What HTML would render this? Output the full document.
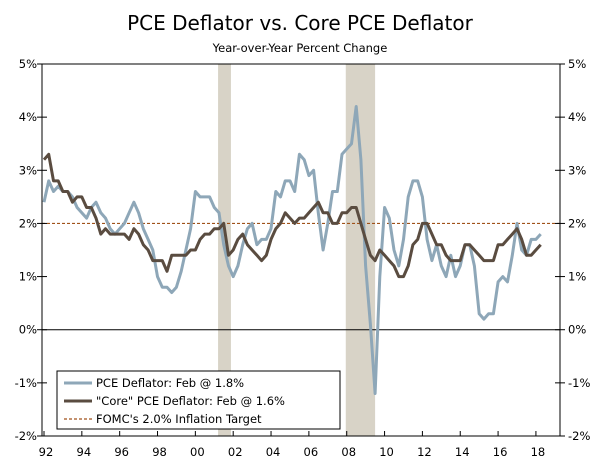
<!DOCTYPE html>
<html><head><meta charset="utf-8">
<style>
body{margin:0;background:#fff;}
svg text{font-family:"DejaVu Sans","Liberation Sans",sans-serif;}
</style></head>
<body>
<svg id="chart" width="600" height="467" viewBox="0 0 600 467">
<text x="300" y="30" text-anchor="middle" font-size="20" fill="#000">PCE Deflator vs. Core PCE Deflator</text>
<text x="300" y="52" text-anchor="middle" font-size="11.5" fill="#000">Year-over-Year Percent Change</text>
<g id="plot"></g>
</svg>
<script>
const startYear = 1992;
const pce = [2.4,2.8,2.6,2.7, 2.6,2.6,2.5,2.3, 2.2,2.1,2.3,2.4, 2.2,2.1,1.9,1.8, 1.9,2.0,2.2,2.4, 2.2,1.9,1.7,1.5, 1.0,0.8,0.8,0.7, 0.8,1.1,1.5,1.9, 2.6,2.5,2.5,2.5, 2.3,2.2,1.6,1.2, 1.0,1.2,1.6,1.9, 2.0,1.6,1.7,1.7, 1.9,2.6,2.5,2.8, 2.8,2.6,3.3,3.2, 2.9,3.0,2.2,1.5, 2.0,2.6,2.6,3.3, 3.4,3.5,4.2,3.2, 1.2,0.1,-1.2,1.0, 2.3,2.1,1.5,1.2, 1.7,2.5,2.8,2.8, 2.5,1.7,1.3,1.6, 1.2,1.0,1.4,1.0, 1.2,1.6,1.6,1.2, 0.3,0.2,0.3,0.3, 0.9,1.0,0.9,1.4, 2.0,1.5,1.4,1.7, 1.7,1.8];
const core = [3.2,3.3,2.8,2.8, 2.6,2.6,2.4,2.5, 2.5,2.3,2.3,2.1, 1.8,1.9,1.8,1.8, 1.8,1.8,1.7,1.9, 1.8,1.6,1.5,1.3, 1.3,1.3,1.1,1.4, 1.4,1.4,1.4,1.5, 1.5,1.7,1.8,1.8, 1.9,1.9,2.0,1.4, 1.5,1.7,1.8,1.6, 1.5,1.4,1.3,1.4, 1.7,1.9,2.0,2.2, 2.1,2.0,2.1,2.1, 2.2,2.3,2.4,2.2, 2.2,2.0,2.0,2.2, 2.2,2.3,2.3,2.0, 1.7,1.4,1.3,1.5, 1.4,1.3,1.2,1.0, 1.0,1.2,1.6,1.7, 2.0,2.0,1.8,1.6, 1.6,1.4,1.3,1.3, 1.3,1.6,1.6,1.5, 1.4,1.3,1.3,1.3, 1.6,1.6,1.7,1.8, 1.9,1.7,1.4,1.4, 1.5,1.6];
const yTicks = [-2,-1,0,1,2,3,4,5];
const xTickLabels = ["92","94","96","98","00","02","04","06","08","10","12","14","16","18"];
const recessions = [[2001.2,2001.88],[2007.95,2009.5]];
const target = [2.0];

const L=42,R=560,T=64,B=436;
const x=y=>44+(y-1992)*18.92;
const yv=v=>T+(5-v)*(B-T)/7;
const NS="http://www.w3.org/2000/svg";
const g=document.getElementById('plot');
function mk(tag,attrs,parent){const e=document.createElementNS(NS,tag);for(const k in attrs)e.setAttribute(k,attrs[k]);(parent||g).appendChild(e);return e;}

recessions.forEach(r=>{
  const e=mk('rect',{x:x(r[0]),y:T,width:x(r[1])-x(r[0]),height:B-T,fill:'#d8d3c7'});
  
  
});
// zero line
const z=mk('line',{x1:L,x2:R,y1:yv(0),y2:yv(0),stroke:'#000','stroke-width':1});


// target line
const tl=mk('line',{x1:L,x2:R,y1:yv(target[0]),y2:yv(target[0]),stroke:'#a0521a','stroke-width':1.2,'stroke-dasharray':'3,2'});



function line(arr,color,name){
  const pts=arr.map((v,i)=>x(startYear+i*0.25).toFixed(1)+','+yv(v).toFixed(1)).join(' ');
  const p=mk('polyline',{points:pts,fill:'none',stroke:color,'stroke-width':3,'stroke-linejoin':'round'});
  
  
}
line(pce,'#8ea7b8','pce-deflator-line');
line(core,'#5a4c40','core-pce-line');

// frame
const f=mk('rect',{x:L,y:T,width:R-L,height:B-T,fill:'none',stroke:'#000','stroke-width':1});



yTicks.forEach(v=>{
  const yy=yv(v);
  mk('line',{x1:L-5,x2:L+5,y1:yy,y2:yy,stroke:'#000'});
  mk('line',{x1:R-5,x2:R+5,y1:yy,y2:yy,stroke:'#000'});
  const a=mk('text',{x:L-5,y:yy+4,'text-anchor':'end','font-size':11.5});a.textContent=v+'%';
  
  
  const b=mk('text',{x:R+8,y:yy+4,'text-anchor':'start','font-size':11.5});b.textContent=v+'%';
  
  
});
xTickLabels.forEach((s,i)=>{
  const xx=x(1992+2*i);
  mk('line',{x1:xx,x2:xx,y1:B,y2:B-5,stroke:'#000'});
  const t=mk('text',{x:xx+2,y:B+20,'text-anchor':'middle','font-size':11.5});t.textContent=s;
  
  
});

// legend
const lg=mk('g',{});


mk('rect',{x:57,y:371,width:283,height:58,fill:'#fff',stroke:'#000'},lg);
const items=[['PCE Deflator: Feb @ 1.8%','#8ea7b8',3,null],['"Core" PCE Deflator: Feb @ 1.6%','#5a4c40',3,null],["FOMC's 2.0% Inflation Target",'#a0521a',1.2,'3,2']];
items.forEach((it,i)=>{
  const yy=383+i*18;
  const ln=mk('line',{x1:64,x2:92,y1:yy,y2:yy,stroke:it[1],'stroke-width':it[2]},lg);
  if(it[3])ln.setAttribute('stroke-dasharray',it[3]);
  const t=mk('text',{x:96,y:yy+4,'font-size':11.5},lg);t.textContent=it[0];
  
  
});
</script>
</body></html>
